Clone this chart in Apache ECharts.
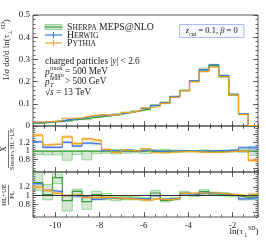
<!DOCTYPE html>
<html><head><meta charset="utf-8">
<script src="https://cdn.jsdelivr.net/npm/echarts@6/dist/echarts.min.js"></script>
<style>html,body{margin:0;padding:0;background:#fff}#c{width:266px;height:240px}</style>
</head><body><div id="c"></div>
<script>
// ---- data ----
const binEdges = [-11.00,-10.56,-10.12,-9.68,-9.23,-8.79,-8.35,-7.91,-7.47,-7.03,-6.59,-6.15,-5.70,-5.26,-4.82,-4.38,-3.94,-3.50,-3.06,-2.62,-2.17,-1.73,-1.29,-0.85];
const sherpaMain   = [0.013,0.017,0.021,0.026,0.031,0.036,0.041,0.047,0.053,0.060,0.068,0.077,0.093,0.105,0.132,0.160,0.203,0.253,0.273,0.225,0.140,0.052,0.002];
const sherpaMainLo = [0.012,0.0155,0.019,0.020,0.0285,0.0285,0.0385,0.0445,0.049,0.057,0.065,0.072,0.090,0.100,0.128,0.157,0.199,0.245,0.268,0.220,0.137,0.050,0.0018];
const sherpaMainHi = [0.013,0.017,0.021,0.026,0.031,0.036,0.041,0.0475,0.055,0.062,0.069,0.082,0.096,0.109,0.135,0.163,0.205,0.261,0.278,0.230,0.143,0.054,0.0022];
const herwigMain   = [0.016,0.019,0.023,0.031,0.035,0.043,0.048,0.048,0.053,0.062,0.068,0.079,0.092,0.105,0.132,0.160,0.203,0.253,0.276,0.227,0.144,0.056,0.002];
const pythiaMain   = [0.018,0.020,0.025,0.035,0.037,0.046,0.051,0.049,0.051,0.061,0.068,0.081,0.089,0.102,0.129,0.158,0.199,0.245,0.265,0.221,0.140,0.052,0.002];

// ratio to Sherpa HL+UE
const sherpaR1   = [1,1,1,1,1,1,1,1,1,1,1,1,1,1,1,1,1,1,1,1,1,1,1];
const sherpaR1Lo = [0.92,0.91,0.91,0.78,0.92,0.79,0.94,0.95,0.93,0.95,0.96,0.94,0.97,0.95,0.97,0.98,0.98,0.97,0.98,0.98,0.98,0.97,0.90];
const sherpaR1Hi = [1.00,1.00,1.00,1.00,1.00,1.00,1.00,1.01,1.04,1.03,1.02,1.06,1.03,1.04,1.02,1.02,1.01,1.03,1.02,1.02,1.02,1.03,1.10];
const herwigR1   = [1.22,1.09,1.09,1.21,1.12,1.19,1.17,1.02,1.00,1.03,1.00,1.03,0.99,1.00,1.00,1.00,1.00,1.00,1.01,1.01,1.03,1.08,1.08];
const pythiaR1   = [1.38,1.15,1.17,1.34,1.18,1.29,1.25,1.04,0.97,1.02,1.00,1.05,0.96,0.97,0.98,0.99,0.98,0.97,0.97,0.98,1.00,1.00,0.78];
const herwigErr  = [0.03,0.03,0.03,0.03,0.03,0.03,0.03,0.02,0.02,0.02,0.02,0.015,0.015,0.01,0.01,0.01,0.01,0.01,0.01,0.01,0.02,0.04,0.05];
const pythiaErr  = [0.04,0.03,0.03,0.04,0.03,0.04,0.04,0.03,0.03,0.03,0.02,0.02,0.015,0.015,0.01,0.01,0.01,0.01,0.01,0.01,0.01,0.02,0.05];

// ratio HL+UE / PL
const sherpaR2   = [1.30,1.02,1.42,0.88,1.10,0.86,1.02,0.96,0.92,0.94,0.93,0.91,1.06,0.89,0.93,1.06,1.02,1.09,1.04,1.03,1.00,0.96,0.97];
const sherpaR2Lo = [1.12,0.90,1.28,0.64,1.03,0.68,0.92,0.90,0.88,0.90,0.90,0.88,0.93,0.85,0.90,1.00,0.98,1.02,1.00,0.99,0.97,0.92,0.90];
const sherpaR2Hi = [1.55,1.26,1.55,1.00,1.15,0.97,1.10,1.05,0.97,0.98,0.97,0.95,1.12,0.93,0.96,1.10,1.05,1.14,1.08,1.07,1.03,1.00,1.04];
const herwigR2   = [1.28,1.12,1.09,1.00,0.98,0.96,0.91,0.95,0.94,0.93,0.93,0.92,1.00,0.92,0.93,1.04,1.04,1.07,1.05,1.04,1.01,0.92,0.95];
const pythiaR2   = [1.20,1.12,1.05,1.00,1.02,0.96,0.95,0.96,0.94,0.93,0.91,0.89,0.93,0.90,0.93,1.05,1.06,1.06,1.06,1.04,1.02,1.00,1.02];

const xMajorTicks = [-10,-8,-6,-4,-2];
const yMainTicks  = [0,0.1,0.2,0.3,0.4,0.5];
const yRatioTicks = [0.6,0.8,1,1.2,1.4];

// ---- styling ----
const FONT = 'Liberation Serif';
const C_SH = '#3b9b3b', C_SH_FILL = 'rgba(110,170,110,0.28)', C_SH_EDGE = 'rgba(90,200,90,0.75)';
const C_HW = '#3f78dc', C_HW_FILL = 'rgba(110,150,240,0.45)';
const C_PY = '#f2a21e', C_PY_FILL = 'rgba(250,190,100,0.55)';
const TXT = '#1a1a1a';
const FS = 9.3;

const grids = [
  {left:33,right:8,top:15,height:111},
  {left:33,right:8,top:126,height:46},
  {left:33,right:8,top:172,height:45}
];
const yRanges = [[0,0.5],[0.5,1.6],[0.5,1.55]];
const xMin = binEdges[0], xMax = binEdges[binEdges.length-1];

function tick(len){return {show:true,inside:true,length:len,lineStyle:{color:'#444',width:0.8}};}
const xAxis=[], yAxis=[];
grids.forEach((g,gi)=>{
  ['bottom','top'].forEach(pos=>{
    xAxis.push({type:'value',gridIndex:gi,position:pos,min:xMin,max:xMax,interval:0.5,
      axisLine:{show:false},splitLine:{show:false},axisTick:tick(2.5),axisLabel:{show:false}});
    xAxis.push({type:'value',gridIndex:gi,position:pos,min:xMin,max:xMax,
      axisLine:{show:false},splitLine:{show:false},
      axisTick:Object.assign(tick(5),{customValues:xMajorTicks}),
      axisLabel:{show:gi===2&&pos==='bottom',customValues:xMajorTicks,fontFamily:FONT,fontSize:9,color:TXT,margin:4}});
  });
  const r = yRanges[gi];
  const majors = gi===0?yMainTicks:yRatioTicks;
  const minorInt = gi===0?0.02:0.05;
  ['left','right'].forEach(pos=>{
    yAxis.push({type:'value',gridIndex:gi,position:pos,min:r[0],max:r[1],interval:minorInt,
      axisLine:{show:false},splitLine:{show:false},axisTick:tick(2.5),axisLabel:{show:false}});
    yAxis.push({type:'value',gridIndex:gi,position:pos,min:r[0],max:r[1],
      axisLine:{show:false},splitLine:{show:false},
      axisTick:Object.assign(tick(5),{customValues:majors}),
      axisLabel:{show:pos==='left',customValues:majors,fontFamily:FONT,fontSize:9,color:TXT,margin:3,
        formatter:v=>String(Math.round(v*100)/100)}});
  });
});
const AX = gi => ({xAxisIndex:gi*4+1, yAxisIndex:gi*4+1});

function stepPts(vals){const p=vals.map((v,i)=>[binEdges[i],v]);p.push([binEdges[vals.length],vals[vals.length-1]]);return p;}
function lineS(gi,vals,color,w){return Object.assign({type:'line',step:'end',data:stepPts(vals),symbol:'none',silent:true,
  lineStyle:{color:color,width:w||1.2},z:3},AX(gi));}
function bandS(gi,lo,hi,fill,stroke){
  return Object.assign({type:'custom',clip:true,silent:true,z:2,
    data:lo.map((l,i)=>[binEdges[i],binEdges[i+1],l,hi[i]]),
    encode:{x:[0,1],y:[2,3]},
    renderItem:(params,api)=>{
      const p0=api.coord([api.value(0),api.value(3)]);
      const p1=api.coord([api.value(1),api.value(2)]);
      return {type:'rect',shape:{x:p0[0],y:p0[1],width:p1[0]-p0[0],height:p1[1]-p0[1]},
        style:{fill:fill,stroke:stroke||null,lineWidth:stroke?0.8:0}};
    }},AX(gi));
}
const lo=(v,e)=>v.map((x,i)=>x-e[i]), hi=(v,e)=>v.map((x,i)=>x+e[i]);

const series = [
  bandS(0,sherpaMainLo,sherpaMainHi,C_SH_FILL,C_SH_EDGE),
  lineS(0,sherpaMain,C_SH),
  lineS(0,herwigMain,C_HW),
  lineS(0,pythiaMain,C_PY),

  bandS(1,sherpaR1Lo,sherpaR1Hi,C_SH_FILL,C_SH_EDGE),
  bandS(1,lo(herwigR1,herwigErr),hi(herwigR1,herwigErr),C_HW_FILL),
  bandS(1,lo(pythiaR1,pythiaErr),hi(pythiaR1,pythiaErr),C_PY_FILL),
  lineS(1,sherpaR1,C_SH),
  lineS(1,herwigR1,C_HW),
  lineS(1,pythiaR1,C_PY),

  Object.assign({type:'line',data:[],silent:true,markLine:{silent:true,symbol:'none',label:{show:false},
    lineStyle:{color:'#333',width:1,type:'solid'},data:[{yAxis:1}]}},AX(2)),
  bandS(2,sherpaR2Lo,sherpaR2Hi,C_SH_FILL,C_SH_EDGE),
  bandS(2,lo(herwigR2,herwigErr),hi(herwigR2,herwigErr),C_HW_FILL),
  bandS(2,lo(pythiaR2,pythiaErr),hi(pythiaR2,pythiaErr),C_PY_FILL),
  lineS(2,sherpaR2,C_SH),
  lineS(2,herwigR2,C_HW),
  lineS(2,pythiaR2,C_PY)
];

const sc = (big,small)=>({b:{fontFamily:FONT,fontSize:big,fill:TXT},s:{fontFamily:FONT,fontSize:small,fill:TXT}});
const legendRich = sc(9.8,7.6);
const rn = {n:{fontFamily:FONT,fontSize:FS,fill:TXT},i:{fontFamily:FONT,fontSize:FS,fontStyle:'italic',fill:TXT}};
const graphic = [
  // legend symbols
  {type:'rect',shape:{x:45,y:24.5,width:17,height:5},style:{fill:C_SH_FILL,stroke:C_SH_EDGE,lineWidth:0.8}},
  {type:'line',shape:{x1:45,y1:27,x2:62,y2:27},style:{stroke:C_SH,lineWidth:1.2}},
  {type:'line',shape:{x1:45,y1:35,x2:62,y2:35},style:{stroke:C_HW,lineWidth:1.2}},
  {type:'line',shape:{x1:53.5,y1:32,x2:53.5,y2:38},style:{stroke:C_HW,lineWidth:1}},
  {type:'line',shape:{x1:45,y1:43,x2:62,y2:43},style:{stroke:C_PY,lineWidth:1.2}},
  {type:'line',shape:{x1:53.5,y1:40,x2:53.5,y2:46},style:{stroke:C_PY,lineWidth:1}},
  {type:'text',x:67,y:27.5,style:{text:'{b|S}{s|HERPA}{b| MEPS@NLO}',rich:legendRich,verticalAlign:'middle'}},
  {type:'text',x:67,y:35.5,style:{text:'{b|H}{s|ERWIG}',rich:legendRich,verticalAlign:'middle'}},
  {type:'text',x:67,y:43.5,style:{text:'{b|P}{s|YTHIA}',rich:legendRich,verticalAlign:'middle'}},
  // info text
  {type:'text',x:45,y:62,style:{text:'{n|charged particles |}{i|y}{n|| < 2.6}',verticalAlign:'middle',rich:rn}},
  {type:'text',x:45,y:72.5,style:{text:'p',font:'italic '+FS+'px '+FONT,fill:TXT,verticalAlign:'middle'}},
  {type:'text',x:50,y:68.3,style:{text:'track',font:'6.2px '+FONT,fill:TXT,verticalAlign:'middle'}},
  {type:'text',x:50,y:75.2,style:{text:'T,min',font:'italic 6.2px '+FONT,fill:TXT,verticalAlign:'middle'}},
  {type:'text',x:65,y:72,style:{text:'= 500 MeV',font:FS+'px '+FONT,fill:TXT,verticalAlign:'middle'}},
  {type:'text',x:45,y:82.5,style:{text:'p',font:'italic '+FS+'px '+FONT,fill:TXT,verticalAlign:'middle'}},
  {type:'text',x:50,y:78.3,style:{text:'lead',font:'6.2px '+FONT,fill:TXT,verticalAlign:'middle'}},
  {type:'text',x:50,y:85.2,style:{text:'T',font:'italic 6.2px '+FONT,fill:TXT,verticalAlign:'middle'}},
  {type:'text',x:65,y:82,style:{text:'> 500 GeV',font:FS+'px '+FONT,fill:TXT,verticalAlign:'middle'}},
  {type:'text',x:45,y:93,style:{text:'{n|√}{i|s}{n| = 13 TeV}',verticalAlign:'middle',rich:rn}},
  // z_cut box
  {type:'rect',shape:{x:179.5,y:24.5,width:64.5,height:13},style:{fill:'#f6f8ff',stroke:'#a9bbf0',lineWidth:1}},
  {type:'text',x:211.75,y:31,style:{text:'{i|z}{sb|cut}{n| = 0.1, }{i|β}{n| = 0}',align:'center',verticalAlign:'middle',
    rich:{n:{fontFamily:FONT,fontSize:8.5,fill:TXT},i:{fontFamily:FONT,fontSize:8.5,fontStyle:'italic',fill:TXT},
      sb:{fontFamily:FONT,fontSize:5.8,fill:TXT,verticalAlign:'bottom',lineHeight:12}}}},
  // y titles
  {type:'text',x:6.5,y:50,rotation:Math.PI/2,style:{text:'{n|1/σ dσ/d ln(τ}{sb|⊥}{sp|SD}{n|)}',align:'center',verticalAlign:'middle',
    rich:{n:{fontFamily:FONT,fontSize:9,fill:TXT},sb:{fontFamily:FONT,fontSize:5.8,fill:TXT,verticalAlign:'bottom',lineHeight:13},
      sp:{fontFamily:FONT,fontSize:5.8,fill:TXT,verticalAlign:'top',lineHeight:13}}}},
  {type:'group',x:8.5,y:149,rotation:Math.PI/2,children:[
    {type:'text',style:{x:0,y:-4,text:'X',font:'7.5px '+FONT,fill:TXT,align:'center',verticalAlign:'middle'}},
    {type:'line',shape:{x1:-19,y1:0,x2:19,y2:0},style:{stroke:TXT,lineWidth:0.6}},
    {type:'text',style:{x:0,y:3.8,text:'{b|S}{s|HERPA}{b| HL+UE}',rich:sc(6.5,5),align:'center',verticalAlign:'middle'}}
  ]},
  {type:'group',x:8.5,y:195,rotation:Math.PI/2,children:[
    {type:'text',style:{x:0,y:-4,text:'HL+UE',font:'6.8px '+FONT,fill:TXT,align:'center',verticalAlign:'middle'}},
    {type:'line',shape:{x1:-10,y1:0,x2:10,y2:0},style:{stroke:TXT,lineWidth:0.6}},
    {type:'text',style:{x:0,y:4,text:'PL',font:'6.8px '+FONT,fill:TXT,align:'center',verticalAlign:'middle'}}
  ]},
  // x title
  {type:'text',x:244,y:232,style:{text:'{n|ln(τ}{sb|⊥}{sp|SD}{n|)}',align:'center',verticalAlign:'middle',
    rich:{n:{fontFamily:FONT,fontSize:9,fill:TXT},sb:{fontFamily:FONT,fontSize:5.8,fill:TXT,verticalAlign:'bottom',lineHeight:13},
      sp:{fontFamily:FONT,fontSize:5.8,fill:TXT,verticalAlign:'top',lineHeight:13}}}}
];

const chart = echarts.init(document.getElementById('c'),null,{renderer:'canvas',width:266,height:240});
chart.setOption({
  animation:false,
  backgroundColor:'#fff',
  grid:grids.map(g=>Object.assign({show:true,borderColor:'#444',borderWidth:0.9,backgroundColor:'transparent',containLabel:false},g)),
  xAxis:xAxis, yAxis:yAxis, series:series, graphic:graphic
});
</script></body></html>
